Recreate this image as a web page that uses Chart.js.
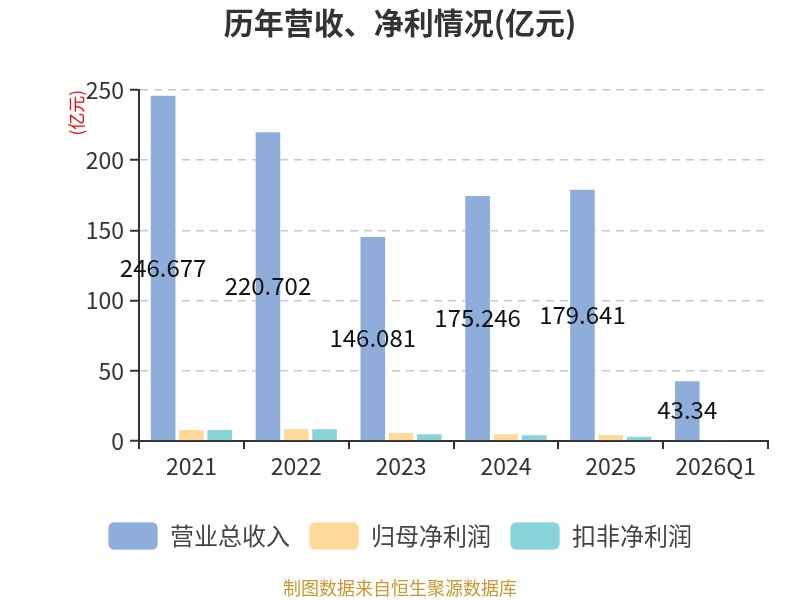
<!DOCTYPE html>
<html>
<head>
<meta charset="utf-8">
<script src="https://cdn.jsdelivr.net/npm/chart.js@4"></script>
<style>
  html, body { margin: 0; padding: 0; background: #fff; }
  #wrap { width: 800px; height: 600px; }
</style>
</head>
<body>
<div id="wrap"><canvas id="revenueChart"></canvas></div>
<script>
// ---- data ----
const categories = ['2021', '2022', '2023', '2024', '2025', '2026Q1'];
const revenue = [246.677, 220.702, 146.081, 175.246, 179.641, 43.34];
const netProfit = [8.6, 9.3, 6.4, 5.5, 5.0, 1.0];
const deductedProfit = [8.6, 9.0, 5.5, 4.8, 3.8, 0.8];
const yTicks = [0, 50, 100, 150, 200, 250];

const FONT = '"Noto Sans CJK SC", "Noto Sans", sans-serif';

// labels in the middle of the revenue bars + title + footer
const decorPlugin = {
    id: 'decor',
    afterDatasetsDraw(chart) {
        const ctx = chart.ctx;
        const meta = chart.getDatasetMeta(0);
        ctx.save();
        ctx.font = '24px ' + FONT;
        ctx.fillStyle = '#111';
        ctx.textAlign = 'center';
        ctx.textBaseline = 'middle';
        meta.data.forEach((bar, i) => {
            ctx.fillText(String(revenue[i]), bar.x, (bar.y + bar.base) / 2);
        });
        ctx.restore();
    },
    afterDraw(chart) {
        const ctx = chart.ctx;
        ctx.save();
        ctx.textAlign = 'center';
        ctx.textBaseline = 'middle';
        ctx.fillStyle = '#333';
        ctx.font = 'bold 30px ' + FONT;
        ctx.fillText('历年营收、净利情况(亿元)', 400, 23);
        ctx.fillStyle = '#c9982e';
        ctx.font = '18px ' + FONT;
        ctx.fillText('制图数据来自恒生聚源数据库', 400, 588);
        ctx.restore();
    }
};

const ctx = document.getElementById('revenueChart');
new Chart(ctx, {
    type: 'bar',
    data: {
        labels: categories,
        datasets: [{
            label: '营业总收入',
            data: revenue,
            backgroundColor: '#8eaddb',
            borderColor: 'rgba(255,255,255,0.7)',
            borderWidth: 1
        }, {
            label: '归母净利润',
            data: netProfit,
            backgroundColor: '#fed99a',
            borderColor: 'rgba(255,255,255,0.7)',
            borderWidth: 1
        }, {
            label: '扣非净利润',
            data: deductedProfit,
            backgroundColor: '#87d5d9',
            borderColor: 'rgba(255,255,255,0.7)',
            borderWidth: 1
        }]
    },
    options: {
        responsive: true,
        maintainAspectRatio: false,
        animation: false,
        categoryPercentage: 0.81,
        barPercentage: 0.94,
        layout: { padding: { left: 32, right: 32, top: 90, bottom: 40 } },
        plugins: {
            title: { display: false },
            tooltip: { enabled: false },
            legend: {
                position: 'bottom',
                labels: {
                    boxWidth: 50,
                    boxHeight: 28,
                    useBorderRadius: true,
                    borderRadius: 6,
                    padding: 19,
                    color: '#444',
                    font: { family: FONT, size: 24 }
                }
            }
        },
        scales: {
            x: {
                grid: {
                    display: true,
                    drawOnChartArea: false,
                    tickColor: '#333',
                    tickLength: 8,
                    lineWidth: 2
                },
                border: { color: '#333', width: 2 },
                ticks: { color: '#333', padding: 3, font: { family: FONT, size: 23 } },
                afterFit(scale) { scale.height = 62; }
            },
            y: {
                min: 0,
                max: 250,
                afterBuildTicks(scale) { scale.ticks = yTicks.map(v => ({ value: v })); },
                grid: {
                    color: '#c8c8c8',
                    lineWidth: 1.5,
                    tickColor: '#333',
                    tickLength: 9,
                    tickBorderDash: [],
                    tickWidth: 2
                },
                border: { color: '#333', width: 2, dash: [8, 6] },
                ticks: { color: '#333', padding: 6, font: { family: FONT, size: 23 } },
                title: {
                    display: true,
                    text: '(亿元)',
                    align: 'end',
                    color: '#f00',
                    padding: { top: 34, bottom: 0 },
                    font: { family: FONT, size: 17 }
                },
                afterFit(scale) { scale.width = 107; }
            }
        }
    },
    plugins: [decorPlugin]
});
</script>
</body>
</html>
